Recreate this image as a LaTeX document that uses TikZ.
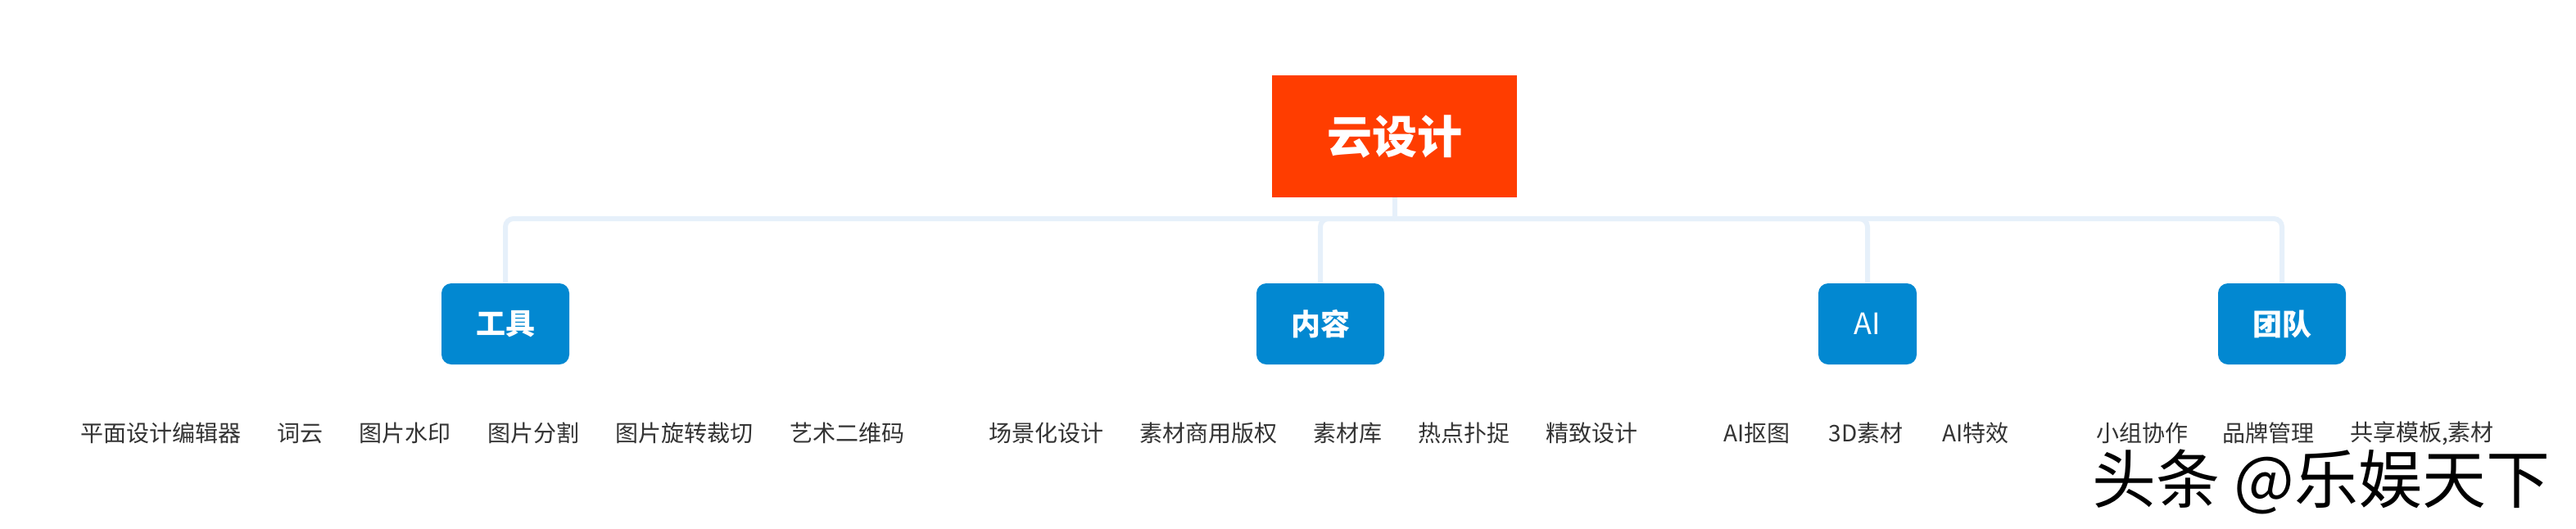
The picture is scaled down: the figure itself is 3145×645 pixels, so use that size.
\documentclass[tikz,border=0pt]{standalone}
\usepackage{fontspec}
\usetikzlibrary{backgrounds}
\newfontfamily\cjk{Noto Sans CJK SC}
\definecolor{rootred}{HTML}{FF3D00}
\definecolor{childblue}{HTML}{0288D1}
\definecolor{linkblue}{HTML}{E6F0FA}
\definecolor{leafgray}{HTML}{333333}
\tikzset{
  rootbox/.style={fill=rootred, text=white, font=\cjk\bfseries\fontsize{27.5}{30}\selectfont,
    minimum width=149.5pt, minimum height=74.5pt, inner sep=0pt},
  childbox/.style={fill=childblue, text=white, font=\cjk\bfseries\fontsize{18}{20}\selectfont,
    minimum width=78pt, minimum height=49.5pt, inner sep=0pt, rounded corners=6pt},
  leaf/.style={text=leafgray, font=\cjk\fontsize{14}{16}\selectfont, inner sep=0pt, anchor=center},
  conn/.style={draw=linkblue, line width=3pt, rounded corners=5pt},
  wmark/.style={text=black, font=\cjk\fontsize{39}{42}\selectfont, inner sep=0pt}
}
\begin{document}
\begin{tikzpicture}[x=0.5pt,y=-0.5pt]
\useasboundingbox (0,0) rectangle (3145,645);
% nodes
\node[rootbox] (root) at (1702.5,166.5) {云设计};
\node[childbox] (tool) at (617,395.5) {工具};
\node[childbox] (cont) at (1612,395.5) {内容};
\node[childbox, minimum width=60pt, font=\cjk\fontsize{18}{20}\selectfont] (ai) at (2280,395.5) {AI};
\node[childbox] (team) at (2786,395.5) {团队};
\coordinate (j) at (1702.5,267);
% connectors
\begin{scope}[on background layer]
\fill[white] (0,0) rectangle (3145,645);
\draw[conn] (root.south) -- (j);
\draw[conn] (j) -| (tool.north);
\draw[conn] (j) -| (cont.north);
\draw[conn] (j) -| (ai.north);
\draw[conn] (j) -| (team.north);
\end{scope}
% leaves
\node[leaf] (t1) at (196,529) {平面设计编辑器};
\node[leaf] (t2) at (366,529) {词云};
\node[leaf] (t3) at (494,529) {图片水印};
\node[leaf] (t4) at (651,529) {图片分割};
\node[leaf] (t5) at (835,529) {图片旋转裁切};
\node[leaf] (t6) at (1034,529) {艺术二维码};
\node[leaf] (c1) at (1277,529) {场景化设计};
\node[leaf] (c2) at (1475,529) {素材商用版权};
\node[leaf] (c3) at (1645,529) {素材库};
\node[leaf] (c4) at (1787,529) {热点扑捉};
\node[leaf] (c5) at (1943,529) {精致设计};
\node[leaf] (a1) at (2145,529) {AI抠图};
\node[leaf] (a2) at (2278,529) {3D素材};
\node[leaf] (a3) at (2412,529) {AI特效};
\node[leaf] (m1) at (2615,529) {小组协作};
\node[leaf] (m2) at (2769,529) {品牌管理};
\node[leaf] (m3) at (2957,529) {共享模板,素材};
% watermark
\node[wmark] (wm) at (2834,588) {头条 @乐娱天下};
\end{tikzpicture}
\end{document}
